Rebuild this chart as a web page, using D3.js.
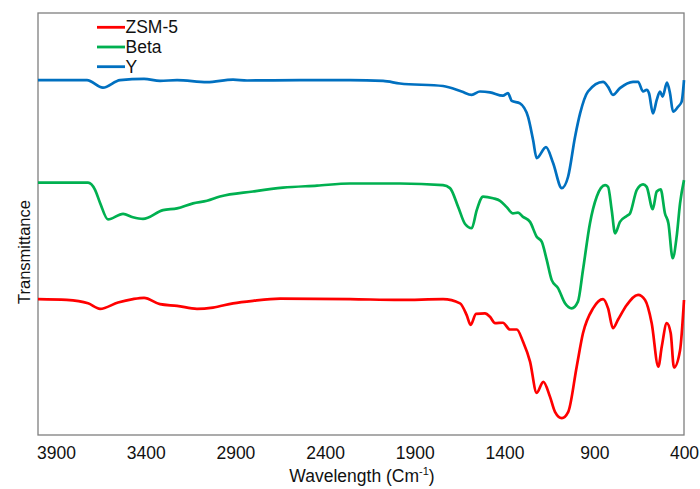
<!DOCTYPE html>
<html>
<head>
<meta charset="utf-8">
<script src="https://cdn.jsdelivr.net/npm/d3@7"></script>
<style>
  body { margin: 0; background: #fff; }
  svg { display: block; font-family: "Liberation Sans", Arial, sans-serif; }
</style>
</head>
<body>
<div id="chart"></div>
<script>
// wavenumber (cm-1) and transmittance (arbitrary, curves stacked)
var zsmWn  = [4000,3840,3721,3654,3554,3471,3409,3320,3225,3114,3025,2913,2802,2651,2261,1983,1743,1648,1611,1589,1559,1509,1481,1453,1409,1370,1332,1297,1258,1221,1184,1147,1119,1081,1045,998,963,907,851,823,796,768,719,656,617,580,543,524,496,474,456,422,400];
var zsmVal = [32.2,32.0,31.2,29.9,31.4,32.2,32.5,31.0,30.6,29.9,30.2,31.2,31.8,32.3,32.2,32.0,32.2,31.2,28.4,26.1,28.7,28.8,28.0,26.5,26.6,25.0,25.0,22.1,17.4,10.0,12.6,9.1,5.5,4.0,5.5,16.2,24.1,30.0,32.2,30.0,25.3,27.3,30.8,33.2,32.0,26.5,16.2,20.9,26.5,24.1,16.0,20.1,32.0];

var betaWn  = [4000,3721,3682,3654,3610,3526,3471,3415,3303,3225,3136,3058,2986,2802,2635,2445,2261,1983,1743,1704,1659,1620,1583,1555,1520,1464,1425,1388,1353,1325,1297,1258,1221,1193,1165,1137,1102,1063,1026,991,963,924,886,840,823,803,784,757,719,701,663,628,608,574,552,530,506,487,463,441,422,400];
var betaVal = [59.8,59.8,58.1,55.0,51.1,52.4,51.6,51.2,53.3,53.7,54.9,55.5,56.5,57.7,58.6,59.1,59.6,59.6,59.2,58.5,54.1,50.0,49.0,53.3,56.5,56.1,55.5,54.0,52.5,52.7,51.7,50.5,47.0,45.8,41.5,36.7,34.8,31.2,30.0,31.6,39.1,50.2,56.5,59.2,58.8,53.3,47.8,50.5,51.9,52.5,58.1,59.4,58.8,53.5,57.7,58.2,52.5,50.2,41.9,47.0,54.9,60.4];

var yWn  = [4000,3727,3638,3543,3409,3320,3225,3058,2913,2835,2540,2261,2077,1983,1743,1639,1583,1537,1481,1409,1381,1360,1314,1269,1241,1221,1169,1130,1081,1046,1007,979,935,851,823,796,757,684,656,628,608,595,573,552,534,519,495,478,461,433,413,400];
var yVal = [84.1,84.1,82.3,84.1,84.4,83.9,84.1,83.6,84.2,84.0,84.1,84.1,83.9,83.3,82.7,81.4,80.6,81.4,81.2,80.4,81.0,79.2,78.6,75.4,69.9,65.6,68.2,64.5,58.5,61.2,70.7,76.2,81.4,83.7,82.5,80.6,82.2,83.7,83.7,81.4,81.8,81.0,76.2,79.4,81.4,80.2,83.5,81.0,76.6,77.8,79.0,84.1];

var xTicks = [3900,3400,2900,2400,1900,1400,900,400];
var seriesNames = ['ZSM-5','Beta','Y'];
var seriesColors = ['#ff0000','#00b050','#0070c0'];

var W = 700, H = 489;
var margin = {top: 13, right: 16, bottom: 54, left: 38};
var width = W - margin.left - margin.right;
var height = H - margin.top - margin.bottom;

var svg = d3.select('#chart').append('svg')
  .attr('width', W)
  .attr('height', H);

var g = svg.append('g')
  .attr('transform', 'translate(' + margin.left + ',' + margin.top + ')');

var x = d3.scaleLinear().domain([4000, 400]).range([0, width]);
var y = d3.scaleLinear().domain([0, 100]).range([height, 0]);

function pack(wn, val){
  return wn.map(function(d, i){ return {wn: d, v: val[i]}; });
}
var series = [pack(zsmWn, zsmVal), pack(betaWn, betaVal), pack(yWn, yVal)];

// frame
g.append('rect')
  .attr('x', 0).attr('y', 0)
  .attr('width', width).attr('height', height)
  .attr('fill', 'none')
  .attr('stroke', '#7f7f7f')
  .attr('stroke-width', 1.3);

// x tick labels (no tick marks)
var xAxis = d3.axisBottom(x)
  .tickValues(xTicks)
  .tickFormat(d3.format('d'))
  .tickSize(0)
  .tickPadding(12);
var ax = g.append('g')
  .attr('transform', 'translate(0,' + height + ')')
  .call(xAxis);
ax.select('.domain').remove();
ax.selectAll('text')
  .style('font-size', '17.5px')
  .style('font-family', '"Liberation Sans", Arial, sans-serif')
  .attr('fill', '#111');

var line = d3.line()
  .x(function(d){ return x(d.wn); })
  .y(function(d){ return y(d.v); })
  .curve(d3.curveMonotoneX);

g.selectAll('.spec')
  .data(series)
  .enter()
  .append('path')
  .attr('class', 'spec')
  .attr('d', line)
  .attr('fill', 'none')
  .attr('stroke', function(d, i){ return seriesColors[i]; })
  .attr('stroke-width', 2.7)
  .attr('stroke-linejoin', 'round');

// axis titles
var xt = svg.append('text')
  .attr('x', margin.left + width / 2 + 1)
  .attr('y', 482)
  .attr('text-anchor', 'middle')
  .style('font-size', '17.5px')
  .attr('fill', '#111');
xt.append('tspan').text('Wavelength (Cm');
xt.append('tspan').attr('dy', -7).style('font-size', '11px').text('-1');
xt.append('tspan').attr('dy', 7).text(')');

svg.append('text')
  .attr('transform', 'translate(30,252) rotate(-90)')
  .attr('text-anchor', 'middle')
  .style('font-size', '16.5px')
  .attr('fill', '#111')
  .text('Transmittance');

// legend
var lg = svg.append('g').selectAll('g')
  .data(seriesNames)
  .enter()
  .append('g')
  .attr('transform', function(d, i){ return 'translate(97,' + (27.3 + i * 19.7) + ')'; });

lg.append('line')
  .attr('x1', 0).attr('x2', 28)
  .attr('stroke', function(d, i){ return seriesColors[i]; })
  .attr('stroke-width', 2.8);

lg.append('text')
  .attr('x', 28.5)
  .attr('y', 6)
  .style('font-size', '17.5px')
  .attr('fill', '#111')
  .text(function(d){ return d; });
</script>
</body>
</html>
